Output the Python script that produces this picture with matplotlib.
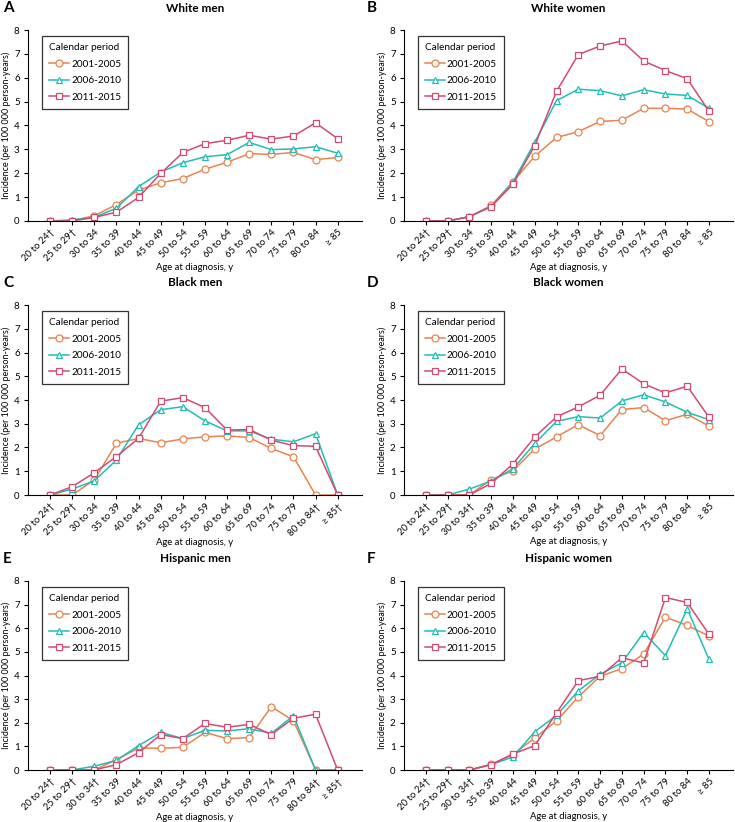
import matplotlib.pyplot as plt

plt.rcParams['font.family'] = ['Lato', 'DejaVu Sans']

ages = ["20 to 24", "25 to 29", "30 to 34", "35 to 39", "40 to 44", "45 to 49",
        "50 to 54", "55 to 59", "60 to 64", "65 to 69", "70 to 74", "75 to 79",
        "80 to 84", "\u2265 85"]
periods = ["2001-2005", "2006-2010", "2011-2015"]

# indices of age groups flagged with a dagger in each panel
dag_a = [0, 1]
dag_b = [0, 1]
dag_c = [0, 1, 12, 13]
dag_d = [0, 1, 2]
dag_e = [0, 1, 2, 12, 13]
dag_f = [0, 1, 2]

white_men_01 = [0, 0.02, 0.22, 0.69, 1.3, 1.6, 1.78, 2.17, 2.46, 2.82, 2.79, 2.87, 2.57, 2.66]
white_men_06 = [0, 0.05, 0.15, 0.54, 1.44, 2.05, 2.44, 2.69, 2.78, 3.29, 2.99, 3.02, 3.11, 2.84]
white_men_11 = [0, 0, 0.15, 0.37, 0.99, 1.99, 2.87, 3.24, 3.38, 3.59, 3.43, 3.56, 4.11, 3.45]

white_women_01 = [0, 0, 0.18, 0.65, 1.64, 2.71, 3.5, 3.74, 4.17, 4.22, 4.72, 4.72, 4.69, 4.16]
white_women_06 = [0, 0, 0.18, 0.61, 1.63, 3.29, 5.04, 5.52, 5.46, 5.24, 5.5, 5.32, 5.26, 4.72]
white_women_11 = [0, 0, 0.18, 0.6, 1.54, 3.16, 5.43, 6.97, 7.33, 7.54, 6.7, 6.3, 5.96, 4.59]

black_men_01 = [0, 0, 0.64, 2.18, 2.38, 2.2, 2.36, 2.45, 2.49, 2.42, 1.96, 1.61, 0, 0]
black_men_06 = [0, 0.25, 0.6, 1.48, 2.96, 3.59, 3.72, 3.12, 2.7, 2.7, 2.35, 2.24, 2.58, 0]
black_men_11 = [0, 0.35, 0.94, 1.62, 2.39, 3.95, 4.1, 3.68, 2.73, 2.76, 2.31, 2.08, 2.05, 0]

black_women_01 = [0, 0, 0, 0.65, 1.02, 1.93, 2.45, 2.96, 2.5, 3.6, 3.68, 3.13, 3.4, 2.9]
black_women_06 = [0, 0, 0.25, 0.59, 1.1, 2.17, 3.1, 3.3, 3.24, 3.96, 4.22, 3.92, 3.48, 3.17]
black_women_11 = [0, 0, 0, 0.49, 1.31, 2.44, 3.29, 3.71, 4.2, 5.31, 4.68, 4.3, 4.58, 3.27]

hisp_men_01 = [0, 0, 0, 0.44, 0.93, 0.92, 0.96, 1.59, 1.33, 1.37, 2.68, 2.09, 0, 0]
hisp_men_06 = [0, 0, 0.16, 0.41, 1.03, 1.59, 1.33, 1.68, 1.65, 1.75, 1.55, 2.3, 0, 0]
hisp_men_11 = [0, 0, 0, 0.23, 0.73, 1.5, 1.33, 1.97, 1.81, 1.93, 1.5, 2.19, 2.36, 0]

hisp_women_01 = [0, 0, 0, 0.24, 0.65, 1.36, 2.08, 3.09, 3.97, 4.29, 4.91, 6.47, 6.12, 5.67]
hisp_women_06 = [0, 0, 0, 0.23, 0.55, 1.62, 2.31, 3.35, 4.05, 4.54, 5.82, 4.84, 6.82, 4.68]
hisp_women_11 = [0, 0, 0, 0.23, 0.68, 1.03, 2.42, 3.78, 3.97, 4.75, 4.53, 7.3, 7.09, 5.74]

colors = ["#E8844F", "#22BDB4", "#D24B70"]
markers = ["o", "^", "s"]
msizes = [5, 5, 4.5]

panels = [
    ("A", "White men", [white_men_01, white_men_06, white_men_11], dag_a),
    ("B", "White women", [white_women_01, white_women_06, white_women_11], dag_b),
    ("C", "Black men", [black_men_01, black_men_06, black_men_11], dag_c),
    ("D", "Black women", [black_women_01, black_women_06, black_women_11], dag_d),
    ("E", "Hispanic men", [hisp_men_01, hisp_men_06, hisp_men_11], dag_e),
    ("F", "Hispanic women", [hisp_women_01, hisp_women_06, hisp_women_11], dag_f),
]

W, H = 735, 822
fig = plt.figure(figsize=(W / 100, H / 100), dpi=100)

lefts = [28, 404]
rights = [362, 733]
tops = [30, 305, 581]
bottoms = [221, 495, 770]
ylab_x = [11, 387]

x = list(range(len(ages)))
for i, (letter, title, series, dag) in enumerate(panels):
    r, c = divmod(i, 2)
    l, rt, t, b = lefts[c], rights[c], tops[r], bottoms[r]
    ax = fig.add_axes([l / W, 1 - b / H, (rt - l) / W, (b - t) / H])
    for vals, name, col, mk, ms in zip(series, periods, colors, markers, msizes):
        ax.plot(x, vals, color=col, lw=1.1, marker=mk, ms=ms,
                mfc="white", mec=col, mew=0.9, label=name)
    ax.set_xlim(-1, 14.1)
    ax.set_ylim(0, 8)
    ax.set_yticks(range(0, 9))
    labels = [a + ("\u2020" if k in dag else "") for k, a in enumerate(ages)]
    ax.set_xticks(x)
    ax.set_xticklabels(labels, rotation=45, ha="right", rotation_mode="anchor", fontsize=6.8)
    ax.tick_params(axis="y", labelsize=7, length=3, width=0.8, pad=3)
    ax.tick_params(axis="x", length=3, width=0.8, pad=2)
    for s in ["top", "right"]:
        ax.spines[s].set_visible(False)
    for s in ["left", "bottom"]:
        ax.spines[s].set_linewidth(0.8)
    ax.set_xlabel("Age at diagnosis, y", fontsize=6.8, labelpad=0)
    ax.set_ylabel("Incidence (per 100 000 person-years)", fontsize=6.5)
    ax.yaxis.set_label_coords((ylab_x[c] - l) / (rt - l), 0.5)
    leg = ax.legend(loc="upper left", bbox_to_anchor=(0.042, 0.968), borderaxespad=0,
                    title="Calendar period", fontsize=7.2, title_fontsize=7.2,
                    frameon=True, fancybox=False, edgecolor="black",
                    handlelength=2.0, handletextpad=0.2, labelspacing=0.75,
                    borderpad=0.7)
    leg._legend_box.align = "left"
    leg.get_frame().set_linewidth(0.9)
    cx = (l + rt) / 2 / W
    fig.text(cx, 1 - (t - 22) / H, title, ha="center", va="center",
             fontsize=8.5, fontweight="bold")
    fig.text((3 if c == 0 else 367) / W, 1 - (t - 22) / H, letter, ha="left",
             va="center", fontsize=11, fontweight="bold")

fig.savefig("out.png", dpi=100)
